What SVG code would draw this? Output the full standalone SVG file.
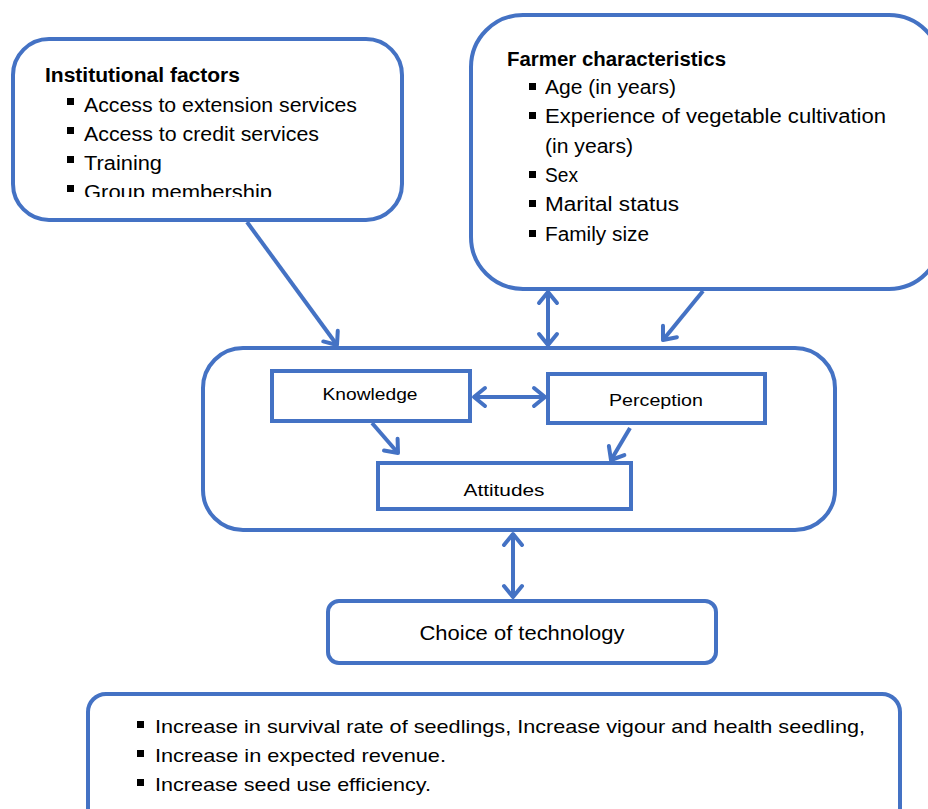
<svg xmlns="http://www.w3.org/2000/svg" width="928" height="809" viewBox="0 0 928 809">
<style>
.box{fill:#fff;stroke:#4472C4;stroke-width:4}
.t{font-family:"Liberation Sans","Noto Sans",sans-serif;fill:#000}
.c{stroke:#4472C4;stroke-width:4;fill:none}
.b{fill:#000}
</style>
<defs>
<marker id="ah" markerUnits="userSpaceOnUse" viewBox="-12 -10 14 20" refX="0" refY="0" markerWidth="14" markerHeight="20" orient="auto-start-reverse" overflow="visible">
<path d="M-11,-9 L0,0 L-11,9" fill="none" stroke="#4472C4" stroke-width="4" stroke-linecap="round" stroke-linejoin="round"/>
</marker>
<clipPath id="clipInst"><rect x="13" y="40" width="390" height="157"/></clipPath>
</defs>
<rect width="928" height="809" fill="#fff"/>
<g id="institutional">
<rect class="box" x="13" y="39" width="389" height="181" rx="36"/>
<g clip-path="url(#clipInst)">
<text class="t" x="45" y="82" font-size="20" font-weight="bold" textLength="195" lengthAdjust="spacingAndGlyphs">Institutional factors</text>
<rect class="b" x="67" y="98" width="7" height="7"/>
<text class="t" x="84" y="112" font-size="20" textLength="273" lengthAdjust="spacingAndGlyphs">Access to extension services</text>
<rect class="b" x="67" y="127" width="7" height="7"/>
<text class="t" x="84" y="141" font-size="20" textLength="235" lengthAdjust="spacingAndGlyphs">Access to credit services</text>
<rect class="b" x="67" y="156" width="7" height="7"/>
<text class="t" x="84" y="170" font-size="20" textLength="78" lengthAdjust="spacingAndGlyphs">Training</text>
<rect class="b" x="67" y="185" width="7" height="7"/>
<text class="t" x="84" y="199" font-size="20" textLength="188" lengthAdjust="spacingAndGlyphs">Group membership</text>
</g>
</g>
<g id="farmer">
<rect class="box" x="471" y="15" width="470" height="274" rx="52"/>
<text class="t" x="507" y="66" font-size="20" font-weight="bold" textLength="219" lengthAdjust="spacingAndGlyphs">Farmer characteristics</text>
<rect class="b" x="529" y="83" width="7" height="7"/>
<text class="t" x="545" y="94" font-size="20" textLength="131" lengthAdjust="spacingAndGlyphs">Age (in years)</text>
<rect class="b" x="529" y="112" width="7" height="7"/>
<text class="t" x="545" y="123" font-size="20" textLength="341" lengthAdjust="spacingAndGlyphs">Experience of vegetable cultivation</text>
<text class="t" x="545" y="153" font-size="20" textLength="88" lengthAdjust="spacingAndGlyphs">(in years)</text>
<rect class="b" x="529" y="171" width="7" height="7"/>
<text class="t" x="545" y="182" font-size="20" textLength="33" lengthAdjust="spacingAndGlyphs">Sex</text>
<rect class="b" x="529" y="200" width="7" height="7"/>
<text class="t" x="545" y="211" font-size="20" textLength="134" lengthAdjust="spacingAndGlyphs">Marital status</text>
<rect class="b" x="529" y="230" width="7" height="7"/>
<text class="t" x="545" y="241" font-size="20" textLength="104" lengthAdjust="spacingAndGlyphs">Family size</text>
</g>
<g id="central">
<rect class="box" x="203" y="348" width="632" height="182" rx="40"/>
</g>
<g id="knowledge">
<rect class="box" x="272" y="371" width="198" height="50" rx="0"/>
<text class="t" x="370" y="400" font-size="17" text-anchor="middle" textLength="95" lengthAdjust="spacingAndGlyphs">Knowledge</text>
</g>
<g id="perception">
<rect class="box" x="548" y="374" width="217" height="49" rx="0"/>
<text class="t" x="656" y="406" font-size="17" text-anchor="middle" textLength="94" lengthAdjust="spacingAndGlyphs">Perception</text>
</g>
<g id="attitudes">
<rect class="box" x="378" y="463" width="253" height="46" rx="0"/>
<text class="t" x="504" y="496" font-size="17" text-anchor="middle" textLength="81" lengthAdjust="spacingAndGlyphs">Attitudes</text>
</g>
<g id="choice">
<rect class="box" x="328" y="601" width="388" height="62" rx="11"/>
<text class="t" x="522" y="640" font-size="20" text-anchor="middle" textLength="205" lengthAdjust="spacingAndGlyphs">Choice of technology</text>
</g>
<g id="outcomes">
<rect class="box" x="88" y="694" width="812" height="140" rx="18"/>
<rect class="b" x="137" y="721" width="7" height="7"/>
<text class="t" x="155" y="733" font-size="19" textLength="710" lengthAdjust="spacingAndGlyphs">Increase in survival rate of seedlings, Increase vigour and health seedling,</text>
<rect class="b" x="137" y="750" width="7" height="7"/>
<text class="t" x="155" y="762" font-size="19" textLength="291" lengthAdjust="spacingAndGlyphs">Increase in expected revenue.</text>
<rect class="b" x="137" y="779" width="7" height="7"/>
<text class="t" x="155" y="791" font-size="19" textLength="276" lengthAdjust="spacingAndGlyphs">Increase seed use efficiency.</text>
</g>
<g id="connectors">
<line class="c" x1="247" y1="222" x2="337" y2="345" marker-end="url(#ah)"/>
<line class="c" x1="548" y1="292" x2="548" y2="345" marker-start="url(#ah)" marker-end="url(#ah)"/>
<line class="c" x1="703" y1="291" x2="663" y2="340" marker-end="url(#ah)"/>
<line class="c" x1="474" y1="397" x2="545" y2="397" marker-start="url(#ah)" marker-end="url(#ah)"/>
<line class="c" x1="372" y1="423" x2="398" y2="453" marker-end="url(#ah)"/>
<line class="c" x1="630" y1="428" x2="611" y2="460" marker-end="url(#ah)"/>
<line class="c" x1="513" y1="534" x2="513" y2="597" marker-start="url(#ah)" marker-end="url(#ah)"/>
</g>
</svg>
